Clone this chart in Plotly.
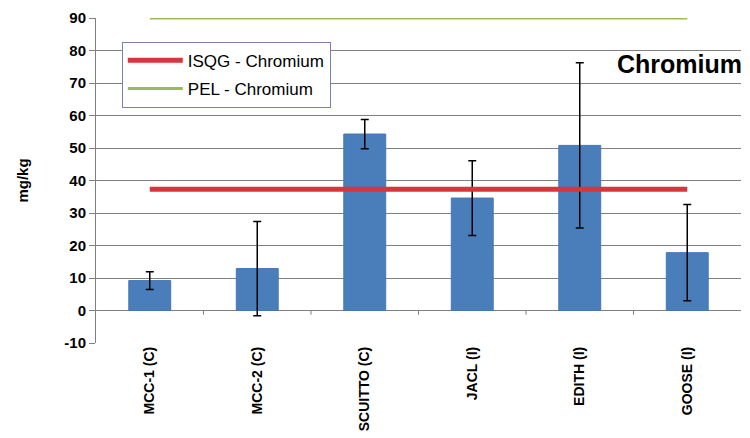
import plotly.graph_objects as go

categories = ["MCC-1 (C)", "MCC-2 (C)", "SCUITTO (C)", "JACL (I)", "EDITH (I)", "GOOSE (I)"]
means = [9.2, 12.9, 54.3, 34.6, 50.8, 17.8]
errors = [2.7, 14.5, 4.5, 11.5, 25.4, 14.8]
isqg_value = 37.3
pel_value = 90.0
y_ticks = list(range(-10, 91, 10))

font_family = "Liberation Sans, Arial, sans-serif"
grid = "#808080"

fig = go.Figure()
fig.add_trace(go.Bar(
    x=categories, y=means, width=0.39,
    marker=dict(color="#4a7ebb", line=dict(color="#4577b5", width=1)),
    error_y=dict(type="data", array=errors, visible=True, color="black", thickness=1.5, width=4),
    showlegend=False,
))
fig.add_trace(go.Scatter(
    x=[categories[0], categories[-1]], y=[isqg_value, isqg_value], mode="lines",
    line=dict(color="#d8353d", width=5), name="ISQG - Chromium", legendgroup="a",
))
fig.add_trace(go.Scatter(
    x=[categories[0], categories[-1]], y=[pel_value, pel_value], mode="lines",
    line=dict(color="#9bbb59", width=3), name="PEL - Chromium", legendgroup="b",
))

shapes = []
for i in range(len(categories) - 1):
    shapes.append(dict(type="line", xref="x", yref="y", x0=i + 0.5, x1=i + 0.5, y0=0, y1=-1.3,
                       line=dict(color=grid, width=1)))

fig.update_layout(
    width=750, height=438,
    margin=dict(l=96, r=9, t=15, b=95),
    paper_bgcolor="white", plot_bgcolor="white",
    font=dict(family=font_family, color="black"),
    shapes=shapes,
    legend=dict(
        x=0.04, y=0.927, xanchor="left", yanchor="top",
        bgcolor="white", bordercolor="#7b7fb0", borderwidth=1,
        font=dict(size=17, family=font_family), tracegroupgap=3,
        itemwidth=55,
    ),
    annotations=[dict(text="Chromium", x=1.005, xref="paper", xanchor="right",
                      y=76, yref="y", yanchor="middle", showarrow=False,
                      font=dict(size=25, family=font_family, color="black", weight="bold"))],
)
fig.update_xaxes(
    type="category", range=[-0.5, len(categories) - 0.5], automargin=False,
    tickangle=-90, tickfont=dict(size=14, family=font_family, weight="bold"),
    showgrid=False, showline=False, ticks="", zeroline=False,
)
fig.update_yaxes(
    range=[-10, 90], tickvals=y_ticks, ticktext=[str(v) for v in y_ticks],
    tickfont=dict(size=15, family=font_family, weight="bold"),
    showgrid=True, gridcolor=grid, gridwidth=1,
    zeroline=True, zerolinecolor=grid, zerolinewidth=1,
    showline=True, linecolor=grid, linewidth=1,
    ticks="outside", ticklen=6, tickcolor=grid,
    title=dict(text="mg/kg", font=dict(size=15, family=font_family, weight="bold"), standoff=32),
)

fig.write_html("out.html")
